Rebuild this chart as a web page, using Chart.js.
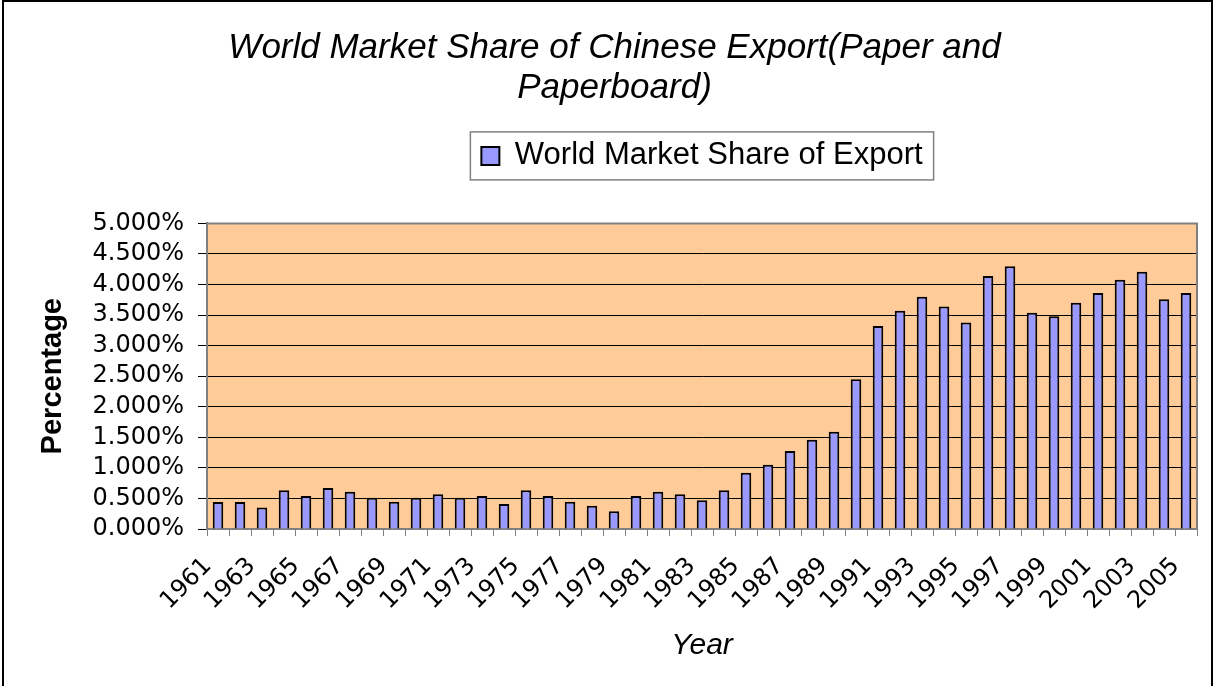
<!DOCTYPE html>
<html>
<head>
<meta charset="utf-8">
<title>World Market Share of Chinese Export</title>
<script src="https://cdn.jsdelivr.net/npm/chart.js@4/dist/chart.umd.min.js"></script>
<style>
  html, body { margin: 0; padding: 0; background: #fff; }
  #wrap { width: 1215px; height: 686px; }
</style>
</head>
<body>
<div id="wrap"><canvas id="shareChart" width="1215" height="686"></canvas></div>
<script>
// Years on the category axis
const years = [
  "1961", "1962", "1963", "1964", "1965", "1966", "1967", "1968", "1969", "1970",
  "1971", "1972", "1973", "1974", "1975", "1976", "1977", "1978", "1979", "1980",
  "1981", "1982", "1983", "1984", "1985", "1986", "1987", "1988", "1989", "1990",
  "1991", "1992", "1993", "1994", "1995", "1996", "1997", "1998", "1999", "2000",
  "2001", "2002", "2003", "2004", "2005"
];

// China's share of world paper & paperboard exports, in percent
const shareOfExport = [
  0.44, 0.44, 0.35, 0.635, 0.54, 0.67, 0.61, 0.51, 0.445, 0.51,
  0.57, 0.51, 0.54, 0.41, 0.635, 0.54, 0.445, 0.38, 0.29, 0.54,
  0.61, 0.57, 0.47, 0.635, 0.92, 1.05, 1.275, 1.46, 1.59, 2.45,
  3.32, 3.57, 3.80, 3.64, 3.38, 4.14, 4.30, 3.54, 3.48, 3.70,
  3.86, 4.08, 4.21, 3.76, 3.86
];

// y axis runs 0% .. 5% in half-percent steps
const yMin = 0;
const yMax = 5;
const yStep = 0.5;

const titleLines = ["World Market Share of Chinese Export(Paper and", "Paperboard)"];
const seriesName = "World Market Share of Export";

const ARIAL = "'Liberation Sans', Arial, sans-serif";
const WIDE = "'DejaVu Sans', Verdana, sans-serif";

// peach plot area, outer frame, plot border and a frame around the legend
const chartDecor = {
  id: "chartDecor",
  beforeInit(chart) {
    // leave room between the legend and the plot
    const fit = chart.legend.fit;
    chart.legend.fit = function () {
      fit.call(this);
      this.height += 42;
    };
  },
  afterLayout(chart) {
    // title sits a bit right of the canvas centre
    chart.titleBlock.left += 16;
    chart.titleBlock.right += 16;
  },
  beforeDraw(chart) {
    const { ctx, chartArea: a } = chart;
    ctx.save();
    ctx.fillStyle = "#fff";
    ctx.fillRect(0, 0, chart.width, chart.height);
    ctx.fillStyle = "#FFCC99";
    ctx.fillRect(a.left, a.top, a.right - a.left, a.bottom - a.top);
    ctx.strokeStyle = "#000";
    ctx.lineWidth = 2;
    ctx.strokeRect(3, 1, chart.width - 6, chart.height + 10);
    ctx.restore();
  },
  afterDraw(chart) {
    const { ctx, chartArea: a } = chart;
    ctx.save();
    ctx.strokeStyle = "#808080";
    ctx.lineWidth = 2;
    ctx.beginPath();
    ctx.moveTo(a.left, a.top);
    ctx.lineTo(a.right, a.top);
    ctx.lineTo(a.right, a.bottom);
    ctx.stroke();

    const hit = chart.legend.legendHitBoxes[0];
    if (hit) {
      ctx.lineWidth = 1.5;
      ctx.strokeRect(hit.left - 11, hit.top + hit.height / 2 - 24, hit.width + 22, 48);
    }
    ctx.restore();
  }
};

new Chart(document.getElementById("shareChart"), {
  type: "bar",
  data: {
    labels: years,
    datasets: [
      {
        label: seriesName,
        data: shareOfExport,
        backgroundColor: "#9999FF",
        borderColor: "#000",
        borderWidth: 2,
        barPercentage: 0.48,
        categoryPercentage: 1.0,
      },
    ],
  },
  options: {
    responsive: false,
    animation: false,
    layout: { padding: { top: 0, left: 0, right: 18, bottom: 0 } },
    plugins: {
      title: {
        display: true,
        text: titleLines,
        color: "#000",
        font: { family: ARIAL, size: 35, style: "italic", weight: "normal", lineHeight: 1.12 },
        padding: { top: 29, bottom: 0 },
      },
      legend: {
        position: "top",
        fullSize: false,
        labels: {
          color: "#000",
          font: { family: ARIAL, size: 31 },
          boxWidth: 18,
          boxHeight: 18,
          padding: 33,
        },
      },
      tooltip: { enabled: false },
    },
    scales: {
      x: {
        afterFit(scale) {
          scale.height = 157;
          scale.paddingLeft = 0;
          scale.paddingRight = 0;
        },
        border: { color: "#808080", width: 2 },
        grid: { drawOnChartArea: false, drawTicks: true, tickLength: 7, color: "#808080" },
        ticks: {
          autoSkip: false,
          minRotation: 45,
          maxRotation: 45,
          padding: 16,
          labelOffset: -10,
          color: "#000",
          font: { family: WIDE, size: 24 },
          // every other year is labelled
          callback(value, index) {
            return index % 2 === 0 ? years[index] : "";
          },
        },
        title: {
          display: true,
          text: "Year",
          color: "#000",
          font: { family: ARIAL, size: 30, style: "italic" },
          padding: { top: 0, bottom: 22 },
        },
      },
      y: {
        afterFit(scale) { scale.width = 207; },
        min: yMin,
        max: yMax,
        border: { color: "#808080", width: 2 },
        grid: { color: "#000", lineWidth: 1, tickLength: 9, tickColor: "#000" },
        ticks: {
          stepSize: yStep,
          autoSkip: false,
          padding: 14,
          color: "#000",
          font: { family: WIDE, size: 24 },
          callback(value) {
            return value.toFixed(3) + "%";
          },
        },
        title: {
          display: true,
          text: "Percentage",
          color: "#000",
          font: { family: ARIAL, size: 29, weight: "bold" },
          padding: { top: 36, bottom: 0 },
        },
      },
    },
  },
  plugins: [chartDecor],
});
</script>
</body>
</html>
